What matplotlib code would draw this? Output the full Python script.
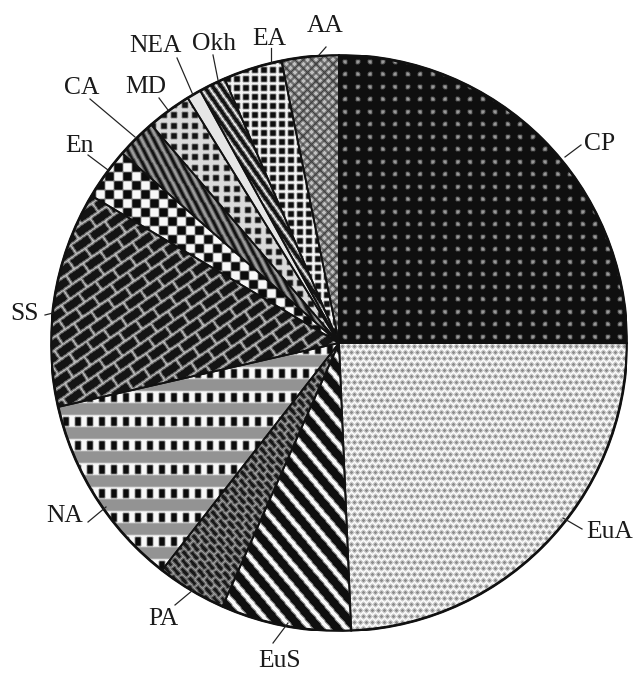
import numpy as np
import matplotlib
matplotlib.use("Agg")
import matplotlib.pyplot as plt
from matplotlib.patches import Circle

# shares of each group, %, read clockwise from 12 o'clock
regions = ["CP", "EuA", "EuS", "PA", "NA", "SS", "En", "CA", "MD", "NEA", "Okh", "EA", "AA"]
shares = [25.0, 24.3, 7.3, 3.9, 10.9, 12.1, 2.9, 2.25, 2.5, 0.8, 1.5, 3.3, 3.2]

# label placement in pixels: text (x, baseline), leader start on rim, leader end
label_text = {
    "CP": (600, 150), "EuA": (610, 538), "EuS": (280, 667), "PA": (163, 625),
    "NA": (65, 522), "SS": (24, 320), "En": (79, 152), "CA": (82, 94),
    "MD": (146, 93), "NEA": (155, 52), "Okh": (214, 50), "EA": (269, 45),
    "AA": (325, 32),
}
label_lead = {
    "CP": ((565, 157), (581, 145)), "EuA": ((563, 518), (582, 529)),
    "EuS": ((288, 623), (273, 643)), "PA": ((193, 590), (175, 605)),
    "NA": ((106, 507), (88, 522)), "SS": ((53, 313), (45, 315)),
    "En": ((108, 170), (88, 155)), "CA": ((135, 137), (90, 99)),
    "MD": ((168, 110), (159, 98)), "NEA": ((193, 95), (177, 58)),
    "Okh": ((218, 80), (213, 55)), "EA": ((271, 62), (271, 48)),
    "AA": ((319, 55), (326, 47)),
}

W, H, DPI = 636, 673, 80
CX, CY, R = 339, 343, 288
N = 2 * R

yy, xx = np.mgrid[0:N, 0:N].astype(float)


def rot(a):
    r = np.deg2rad(a)
    u = xx * np.cos(r) - yy * np.sin(r)
    v = xx * np.sin(r) + yy * np.cos(r)
    return u, v


def stripes(a, period, width, bg, fg):
    u, v = rot(a)
    return np.where((v % period) < width, fg, bg)


def dots(step, rad, bg, fg, stagger=False):
    x = xx + (np.floor(yy / step) % 2) * step / 2 if stagger else xx
    du = (x % step) - step / 2
    dv = (yy % step) - step / 2
    return np.where(du ** 2 + dv ** 2 <= rad ** 2, fg, bg)


def grid(step, width, bg, fg):
    return np.where(((xx % step) < width) | ((yy % step) < width), fg, bg)


def checker(size):
    return np.where(((np.floor(xx / size) + np.floor(yy / size)) % 2) == 0, 0.97, 0.05)


def bricks(a, length, height, mortar, bg, fg):
    u, v = rot(a)
    row = np.floor(v / height)
    uu = u + (row % 2) * length / 2
    m = ((v % height) < mortar) | ((uu % length) < mortar)
    return np.where(m, fg, bg)


def rows_na():
    band = yy % 24
    out = np.full(xx.shape, 0.58)
    in_row = band < 12
    sq = ((xx % 12) < 6) & (band >= 2) & (band < 11)
    out[in_row] = 0.97
    out[in_row & sq] = 0.05
    return out


def meander():
    u, v = rot(40)
    c = 6
    m = ((u % c) < 2) | (((v % c) < 2) & (((np.floor(u / c) + np.floor(v / c)) % 2) == 0))
    return np.where(m, 0.62, 0.1)


def crosshatch():
    u, v = rot(45)
    m = ((u % 6) < 1.8) | ((v % 6) < 1.8)
    return np.where(m, 0.25, 0.75)


def soften(a):
    return (a + np.roll(a, 1, 0) + np.roll(a, -1, 0) + np.roll(a, 1, 1) + np.roll(a, -1, 1)) / 5


textures = {
    "CP": dots(12.5, 2.2, 0.06, 0.6),
    "EuA": dots(6.0, 2.0, 0.97, 0.55, stagger=True),
    "EuS": stripes(-50, 14, 5, 0.06, 0.97),
    "PA": meander(),
    "NA": rows_na(),
    "SS": bricks(35, 21, 11, 2.4, 0.08, 0.72),
    "En": checker(9),
    "CA": stripes(-62, 7, 3.5, 0.08, 0.6),
    "MD": grid(10.5, 4.5, 0.08, 0.85),
    "NEA": np.full(xx.shape, 0.9),
    "Okh": stripes(-55, 7, 2.5, 0.08, 0.93),
    "EA": grid(9, 3, 0.06, 0.95),
    "AA": crosshatch(),
}

fig = plt.figure(figsize=(W / DPI, H / DPI), dpi=DPI)
ax = fig.add_axes([(CX - R) / W, (H - CY - R) / H, N / W, N / H])

wedges, _ = ax.pie(shares, startangle=90, counterclock=False, radius=1,
                   wedgeprops=dict(facecolor="none", edgecolor="#111111", linewidth=1.6))

for name, w in zip(regions, wedges):
    im = ax.imshow(soften(textures[name]), extent=(-1, 1, -1, 1), cmap="gray",
                   vmin=0, vmax=1, interpolation="nearest", zorder=0.5)
    im.set_clip_path(w)
    w.set_zorder(2)

ax.add_patch(Circle((0, 0), 1, facecolor="none", edgecolor="#111111", linewidth=2.4, zorder=3))
ax.set_xlim(-1, 1)
ax.set_ylim(-1, 1)
ax.axis("off")


def to_data(p):
    return (p[0] - CX) / R, (CY - p[1]) / R


for name in regions:
    (p0, p1) = label_lead[name]
    x0, y0 = to_data(p0)
    x1, y1 = to_data(p1)
    ax.plot([x0, x1], [y0, y1], color="#222222", lw=1.1, clip_on=False, zorder=4)
    tx, ty = to_data(label_text[name])
    ax.text(tx, ty, name, ha="center", va="baseline", fontsize=23,
            family="Liberation Serif", color="#1a1a1a", clip_on=False)

fig.savefig("out.png", dpi=DPI, facecolor="white")
